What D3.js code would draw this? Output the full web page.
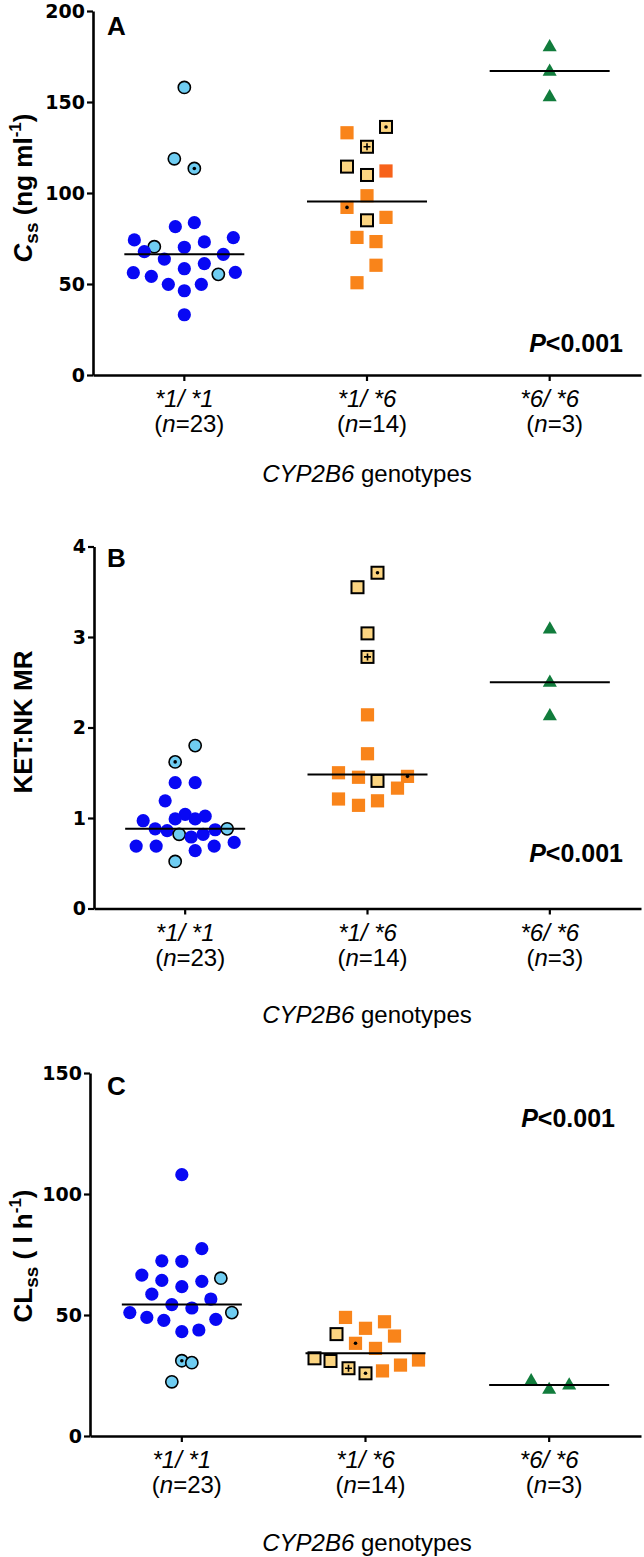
<!DOCTYPE html>
<html>
<head>
<meta charset="utf-8">
<script src="https://cdn.jsdelivr.net/npm/d3@7"></script>
<style>
body { margin: 0; background: #fff; }
text { font-family: "Liberation Sans", Arial, sans-serif; fill: #000; }
</style>
</head>
<body>
<script>
// genotype groups
var genotypes = ['*1/ *1', '*1/ *6', '*6/ *6'];
var groupN = [23, 14, 3];

// marker codes: b blue, l light blue, ld light blue + dot, o orange, od orange + dot,
// r red-orange, y yellow, yd yellow + dot, yp yellow + plus, g green triangle
// dodge = sideways slot of each point in the swarm

// A: Css (ng/ml)
var cssWt = [158, 118.8, 113.5, 81.5, 83.7, 74.2, 75.5, 70.5, 70.2, 73.1, 67.8, 63.7, 66.3, 61.2, 58.4, 56.2, 54.2, 55.3, 56.4, 49.8, 49.8, 46.3, 33.1];
var cssWtMark = ['l','l','ld','b','b','b','b','l','b','b','b','b','b','b','b','b','b','l','b','b','b','b','b'];
var cssWtDodge = [0,-1,1,-0.9,1,-5,4.9,-3,0,2,-4,-2,3.9,2,0,-5.1,-3.3,3.4,5.1,-1.6,1.7,0,0];
var cssHet = [133.1, 136.3, 125.4, 114.5, 109.9, 112.1, 98.5, 92.1, 85.0, 86.6, 75.6, 73.3, 60.3, 50.7];
var cssHetMark = ['o','yd','yp','y','y','r','o','od','y','o','o','o','o','o'];
var cssHetDodge = [-2,1.9,0,-2,0,1.9,0,-2,0,1.9,-1,0.9,0.9,-1];
var cssHom = [180.4, 167.0, 152.9];
var cssHomMark = ['g','g','g'];
var cssHomDodge = [0,0,0];

// B: KET:NK metabolic ratio
var mrWt = [1.80,1.62,1.39,1.39,1.19,1.04,1.02,0.97,0.99,0.99,0.88,0.86,0.82,0.79,0.82,0.87,0.88,0.69,0.69,0.64,0.69,0.73,0.52];
var mrWtMark = ['l','ld','b','b','b','b','b','b','b','b','b','b','l','b','b','b','l','b','b','b','b','b','l'];
var mrWtDodge = [1,-1,-1,1,-2,0,2,-4.2,-1,1,-3,-1.8,-0.6,0.6,1.8,3,4.2,-4.9,-2.9,1,2.9,4.9,-1];
var mrHet = [3.71,3.55,3.04,2.78,2.14,1.71,1.50,1.45,1.41,1.46,1.33,1.21,1.14,1.19];
var mrHetMark = ['yd','y','y','yp','o','o','o','o','y','od','o','o','o','o'];
var mrHetDodge = [1,-1,0,0,0,0,-2.9,-0.9,1,4,3,-2.9,-0.9,1];
var mrHom = [3.09, 2.50, 2.13];
var mrHomMark = ['g','g','g'];
var mrHomDodge = [0,0,0];

// C: CLss (l/h)
var clWt = [108.0,77.4,72.4,72.2,66.5,64.3,61.7,63.9,65.2,58.6,56.6,54.3,52.9,51.0,51.0,49.0,47.8,48.2,43.1,43.8,31.1,30.3,22.4];
var clWtMark = ['b','b','b','b','b','b','b','b','l','b','b','b','b','b','l','b','b','b','b','b','ld','l','l'];
var clWtDodge = [0,2,-2,0,-4,-2,0,2,3.9,-3,2.9,-1,1,-5.2,5,-3.5,-1.8,3.4,0,1.7,0,1,-1];
var clHet = [49.0,44.5,47.2,41.3,42.1,38.3,36.2,32.1,31.0,28.0,25.9,26.9,29.3,31.4];
var clHetMark = ['o','o','o','o','y','od','o','y','y','yp','yd','o','o','o'];
var clHetDodge = [-2,0,1.9,2.9,-2.9,-1,1,-5.1,-3.5,-1.7,0,1.7,3.5,5.3];
var clHom = [22.9, 19.3, 21.1];
var clHomMark = ['g','g','g'];
var clHomDodge = [-1.8,0,2.0];

var yTicksA = [0, 50, 100, 150, 200];
var yTicksB = [0, 1, 2, 3, 4];
var yTicksC = [0, 50, 100, 150];
var pText = '<0.001';

var colors = {
  b: '#0808f4', l: '#6fcdf2', o: '#f9841a', r: '#f7621a', y: '#fcd581', g: '#117c3c'
};

var panels = [
  {letter: 'A', axisX: 93, yTop: 11, y0: 375, ticks: yTicksA,
   values: [cssWt, cssHet, cssHom], marks: [cssWtMark, cssHetMark, cssHomMark],
   dodge: [cssWtDodge, cssHetDodge, cssHomDodge],
   ylab: [{t: 'C', it: true}, {t: 'ss', sub: true}, {t: ' (ng ml'}, {t: '-1', sup: true}, {t: ')'}],
   ylabY: 188, letterY: 35, pX: 623, pY: 352, genoY: 482},
  {letter: 'B', axisX: 94, yTop: 546.5, y0: 908.5, ticks: yTicksB,
   values: [mrWt, mrHet, mrHom], marks: [mrWtMark, mrHetMark, mrHomMark],
   dodge: [mrWtDodge, mrHetDodge, mrHomDodge],
   ylab: [{t: 'KET:NK MR'}],
   ylabY: 722, letterY: 567, pX: 623, pY: 862, genoY: 1023},
  {letter: 'C', axisX: 90, yTop: 1073, y0: 1436, ticks: yTicksC,
   values: [clWt, clHet, clHom], marks: [clWtMark, clHetMark, clHomMark],
   dodge: [clWtDodge, clHetDodge, clHomDodge],
   ylab: [{t: 'CL'}, {t: 'ss', sub: true}, {t: ' ( l h'}, {t: '-1', sup: true}, {t: ')'}],
   ylabY: 1256, letterY: 1095, pX: 615, pY: 1127, genoY: 1551}
];

var svg = d3.select('body').append('svg')
  .attr('width', 644)
  .attr('height', 1557);

var slot = 10;

function drawMark(g, code, cx, cy) {
  var kind = code[0];
  if (kind == 'b') {
    g.append('circle').attr('cx', cx).attr('cy', cy).attr('r', 6.6).style('fill', colors.b);
  } else if (kind == 'l') {
    g.append('circle').attr('cx', cx).attr('cy', cy).attr('r', 6.1)
      .style('fill', colors.l).style('stroke', '#000').style('stroke-width', 1.6);
  } else if (kind == 'o' || kind == 'r') {
    g.append('rect').attr('x', cx - 6.6).attr('y', cy - 6.6).attr('width', 13.2).attr('height', 13.2)
      .style('fill', colors[kind]);
  } else if (kind == 'y') {
    g.append('rect').attr('x', cx - 6).attr('y', cy - 6).attr('width', 12).attr('height', 12)
      .style('fill', colors.y).style('stroke', '#000').style('stroke-width', 2);
  } else if (kind == 'g') {
    g.append('path')
      .attr('d', d3.symbol(d3.symbolTriangle).size(86)())
      .attr('transform', 'translate(' + cx + ',' + (cy + 0.5) + ')')
      .style('fill', colors.g);
  }
  if (code[1] == 'd') {
    g.append('circle').attr('cx', cx).attr('cy', cy).attr('r', 1.8).style('fill', '#000');
  }
  if (code[1] == 'p') {
    g.append('path')
      .attr('d', 'M' + (cx - 3.5) + ',' + cy + 'H' + (cx + 3.5) + 'M' + cx + ',' + (cy - 3.5) + 'V' + (cy + 3.5))
      .style('stroke', '#000').style('stroke-width', 1.6);
  }
}

panels.forEach(function(p) {
  var g = svg.append('g');
  var ymax = p.ticks[p.ticks.length - 1];

  var x = d3.scaleBand().domain(genotypes).range([p.axisX, 641]);
  var y = d3.scaleLinear().domain([0, ymax]).range([p.y0, p.yTop]);

  // points
  var pts = g.append('g');
  genotypes.forEach(function(gt, gi) {
    var cx = x(gt) + x.bandwidth() / 2;
    p.values[gi].forEach(function(v, i) {
      drawMark(pts, p.marks[gi][i], cx + p.dodge[gi][i] * slot, y(v));
    });
  });

  // median lines
  genotypes.forEach(function(gt, gi) {
    var cx = x(gt) + x.bandwidth() / 2;
    var med = d3.median(p.values[gi]);
    g.append('line')
      .attr('x1', cx - 60).attr('x2', cx + 60)
      .attr('y1', y(med)).attr('y2', y(med))
      .style('stroke', '#000').style('stroke-width', 2);
  });

  // axes
  var yAxis = g.append('g')
    .attr('transform', 'translate(' + p.axisX + ',0)')
    .call(d3.axisLeft(y).tickValues(p.ticks).tickFormat(d3.format('d'))
      .tickSize(6).tickSizeOuter(0).tickPadding(2));
  yAxis.selectAll('text')
    .style('font-family', '"DejaVu Sans", sans-serif')
    .style('font-weight', 'bold')
    .style('font-size', '19px');

  var xAxis = g.append('g')
    .attr('transform', 'translate(0,' + p.y0 + ')')
    .call(d3.axisBottom(x).tickSize(6).tickSizeOuter(0).tickFormat(''));

  g.selectAll('.domain').style('stroke', '#000').style('stroke-width', 2.6);
  g.selectAll('.tick line').style('stroke', '#000').style('stroke-width', 2.2);

  // category labels
  genotypes.forEach(function(gt, gi) {
    var cx = x(gt) + x.bandwidth() / 2;
    g.append('text')
      .attr('x', cx).attr('y', p.y0 + 32)
      .attr('text-anchor', 'middle')
      .style('font-size', '24px').style('font-style', 'italic')
      .text(gt);
    var nt = g.append('text')
      .attr('x', cx + 5).attr('y', p.y0 + 57)
      .attr('text-anchor', 'middle')
      .style('font-size', '24px');
    nt.append('tspan').text('(');
    nt.append('tspan').style('font-style', 'italic').text('n');
    nt.append('tspan').text('=' + groupN[gi] + ')');
  });

  var geno = g.append('text')
    .attr('x', 367).attr('y', p.genoY)
    .attr('text-anchor', 'middle')
    .style('font-size', '24px');
  geno.append('tspan').style('font-style', 'italic').text('CYP2B6');
  geno.append('tspan').text(' genotypes');

  // y label
  var yl = g.append('text')
    .attr('transform', 'translate(32,' + p.ylabY + ') rotate(-90)')
    .attr('text-anchor', 'middle')
    .style('font-size', '26px').style('font-weight', 'bold');
  var shift = 0;
  p.ylab.forEach(function(s) {
    var ts = yl.append('tspan').text(s.t);
    var dy = 0;
    if (s.sub) { dy = 6; ts.style('font-size', '19px'); }
    if (s.sup) { dy = -11; ts.style('font-size', '17px'); }
    if (s.it) ts.style('font-style', 'italic');
    ts.attr('dy', dy - shift);
    shift = dy;
  });

  // panel letter
  g.append('text')
    .attr('x', 107).attr('y', p.letterY)
    .style('font-size', '26px').style('font-weight', 'bold')
    .text(p.letter);

  // p value
  var pt = g.append('text')
    .attr('x', p.pX).attr('y', p.pY)
    .attr('text-anchor', 'end')
    .style('font-size', '25px').style('font-weight', 'bold');
  pt.append('tspan').style('font-style', 'italic').text('P');
  pt.append('tspan').text(pText);
});
</script>
</body>
</html>
